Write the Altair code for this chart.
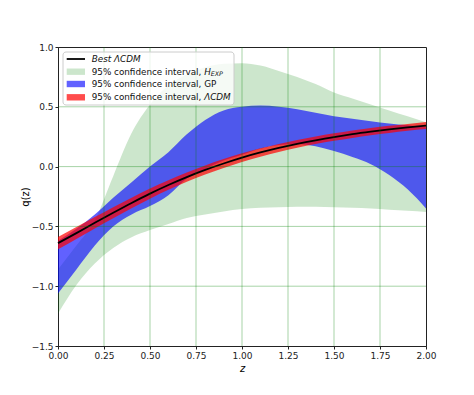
import altair as alt
import pandas as pd

# ---- data ----
z = [0.0, 0.1, 0.2, 0.3, 0.4, 0.5, 0.6, 0.7, 0.8, 0.9, 1.0,
     1.1, 1.2, 1.3, 1.4, 1.5, 1.6, 1.7, 1.8, 1.9, 2.0]

hexp_lo = [-1.23, -0.99, -0.81, -0.68, -0.59, -0.53, -0.48, -0.43, -0.40, -0.375, -0.355,
           -0.345, -0.34, -0.335, -0.335, -0.34, -0.345, -0.35, -0.36, -0.37, -0.38]
hexp_hi = [-0.86, -0.66, -0.45, -0.08, 0.28, 0.52, 0.68, 0.77, 0.83, 0.86, 0.865,
           0.845, 0.80, 0.75, 0.69, 0.62, 0.57, 0.52, 0.47, 0.42, 0.37]

gp_lo = [-1.06, -0.86, -0.66, -0.50, -0.40, -0.33, -0.24, -0.10, -0.02, 0.05, 0.10,
         0.15, 0.18, 0.19, 0.17, 0.13, 0.08, 0.02, -0.07, -0.19, -0.35]
gp_hi = [-0.62, -0.52, -0.40, -0.26, -0.13, 0.0, 0.12, 0.27, 0.39, 0.47, 0.50,
         0.51, 0.50, 0.48, 0.45, 0.42, 0.40, 0.38, 0.36, 0.345, 0.33]

lcdm_lo = [-0.692, -0.606, -0.518, -0.432, -0.348, -0.268, -0.194, -0.127, -0.066, -0.011, 0.039,
           0.083, 0.122, 0.157, 0.188, 0.216, 0.240, 0.262, 0.281, 0.299, 0.314]
lcdm_hi = [-0.588, -0.506, -0.422, -0.340, -0.260, -0.184, -0.114, -0.049, 0.010, 0.063, 0.111,
           0.153, 0.190, 0.223, 0.252, 0.278, 0.302, 0.322, 0.341, 0.357, 0.372]
lcdm_best = [-0.640, -0.556, -0.470, -0.386, -0.304, -0.226, -0.154, -0.088, -0.028, 0.026, 0.075,
             0.118, 0.156, 0.190, 0.220, 0.247, 0.271, 0.292, 0.311, 0.328, 0.343]

x_ticks = [0.0, 0.25, 0.5, 0.75, 1.0, 1.25, 1.5, 1.75, 2.0]
y_ticks = [-1.5, -1.0, -0.5, 0.0, 0.5, 1.0]

legend_best = "Best ΛCDM"
legend_prefix = "95% confidence interval, "
legend_hexp = "H"
legend_hexp_sub = "EXP"
legend_gp = "95% confidence interval, GP"
legend_lcdm = "ΛCDM"

df = pd.DataFrame({
    "z": z, "hexp_lo": hexp_lo, "hexp_hi": hexp_hi,
    "gp_lo": gp_lo, "gp_hi": gp_hi,
    "l_lo": lcdm_lo, "l_hi": lcdm_hi, "best": lcdm_best,
})

W, H = 368, 299
FONT = "DejaVu Sans"

xscale = alt.Scale(domain=[0, 2], nice=False, zero=False)
yscale = alt.Scale(domain=[-1.5, 1.0], nice=False, zero=False)

xaxis = alt.Axis(values=x_ticks, labelExpr="format(datum.value, '.2f')", grid=False,
                 title="z", titleFontStyle="italic", titleFontWeight="normal",
                 titleFontSize=10, titleFont=FONT, titlePadding=3,
                 labelFont=FONT, labelFontSize=9, labelColor="#222",
                 tickSize=3, tickColor="#222", domainColor="#222", labelPadding=2,
                 labelFlush=False)
yaxis = alt.Axis(values=y_ticks, labelExpr="replace(format(datum.value, '.1f'), '-', '−')",
                 grid=False, title="q(z)", titleFontWeight="normal", titleFontSize=10,
                 titleFont=FONT, titlePadding=1,
                 labelFont=FONT, labelFontSize=9, labelColor="#222",
                 tickSize=3, tickColor="#222", domainColor="#222", labelPadding=2,
                 labelFlush=False)

base = alt.Chart(df)

green = base.mark_area(color="#008000", opacity=0.2, interpolate="monotone").encode(
    x=alt.X("z:Q", scale=xscale, axis=xaxis),
    y=alt.Y("hexp_lo:Q", scale=yscale, axis=yaxis),
    y2="hexp_hi:Q",
)
blue = base.mark_area(color="#0000ff", opacity=0.62, interpolate="monotone").encode(
    x="z:Q", y="gp_lo:Q", y2="gp_hi:Q")
red = base.mark_area(color="#ff0000", opacity=0.7, interpolate="monotone").encode(
    x="z:Q", y="l_lo:Q", y2="l_hi:Q")
line = base.mark_line(color="black", strokeWidth=1.8, interpolate="monotone").encode(
    x="z:Q", y="best:Q")

gx = alt.Chart(pd.DataFrame({"t": x_ticks[1:-1]})).mark_rule(
    color="#008000", opacity=0.35, strokeWidth=1).encode(x="t:Q")
gy = alt.Chart(pd.DataFrame({"t": y_ticks[1:-1]})).mark_rule(
    color="#008000", opacity=0.35, strokeWidth=1).encode(y="t:Q")

one = pd.DataFrame({"a": [0]})

leg_box = alt.Chart(one).mark_rect(fill="white", fillOpacity=0.8, stroke="#cccccc",
                                   strokeWidth=1, cornerRadius=3).encode(
    x=alt.value(5), x2=alt.value(176), y=alt.value(5), y2=alt.value(58))

sx1, sx2 = 8.7, 27
rows = [12, 24.7, 37, 50.3]
tx = 33.7
fs = 8.8

leg_line = alt.Chart(one).mark_rule(color="black", strokeWidth=1.8).encode(
    x=alt.value(sx1), x2=alt.value(sx2), y=alt.value(rows[0]))

def patch(color, op, yc):
    return alt.Chart(one).mark_rect(color=color, opacity=op).encode(
        x=alt.value(sx1), x2=alt.value(sx2), y=alt.value(yc - 3.2), y2=alt.value(yc + 3.2))

def txt(s, x, yc, style="normal", size=fs):
    return alt.Chart(one).mark_text(text=s, align="left", baseline="middle", font=FONT,
                                    fontSize=size, fontStyle=style, color="#111").encode(
        x=alt.value(x), y=alt.value(yc))

pre_w = 12.782 * fs
leg = [
    leg_box, leg_line,
    patch("#008000", 0.2, rows[1]), patch("#0000ff", 0.62, rows[2]), patch("#ff0000", 0.7, rows[3]),
    txt(legend_best, tx, rows[0], "italic"),
    txt(legend_prefix, tx, rows[1]),
    txt(legend_hexp, tx + pre_w, rows[1], "italic"),
    txt(legend_hexp_sub, tx + pre_w + 0.752 * fs, rows[1] + 2.2, "italic", 6.3),
    txt(legend_gp, tx, rows[2]),
    txt(legend_prefix, tx, rows[3]),
    txt(legend_lcdm, tx + pre_w, rows[3], "italic"),
]

chart = alt.layer(green, blue, red, line, gx, gy, *leg).properties(
    width=W, height=H,
    autosize=alt.AutoSizeParams(type="none"),
    padding={"left": 50, "top": 39, "right": 40, "bottom": 40},
    background="white",
).configure_view(stroke="#222", strokeWidth=1)

chart.save("out.html", embed_options={"renderer": "svg", "actions": False})
